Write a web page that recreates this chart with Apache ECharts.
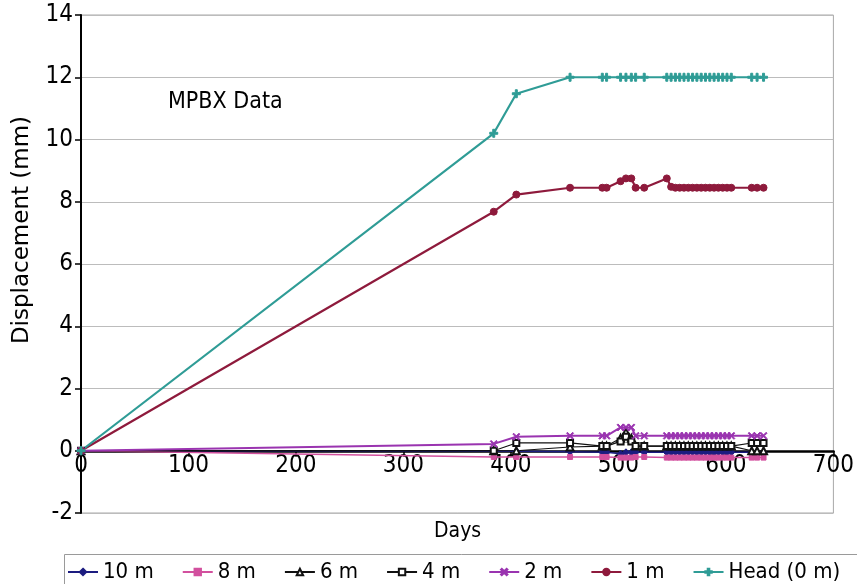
<!DOCTYPE html>
<html>
<head>
<meta charset="utf-8">
<script src="https://cdn.jsdelivr.net/npm/echarts@6/dist/echarts.min.js"></script>
<style>
  html, body { margin: 0; padding: 0; background: #fff; }
  #chart { width: 857px; height: 584px; }
</style>
</head>
<body>
<div id="chart"></div>
<script>
// Survey days at which the extensometer was read
const days = [0, 384, 405, 455, 485, 489, 502, 507, 512, 516, 524,
  545, 549, 553, 557, 561, 565, 569, 573, 577, 581, 585, 589, 593, 597, 601, 605,
  624, 629, 635];

// Displacement (mm) of each anchor depth
const head0m = [0, 10.2, 11.47, 12, 12, 12, 12, 12, 12, 12, 12,
  12, 12, 12, 12, 12, 12, 12, 12, 12, 12, 12, 12, 12, 12, 12, 12,
  12, 12, 12];
const anchor1m = [0, 7.68, 8.23, 8.45, 8.45, 8.45, 8.66, 8.75, 8.75, 8.45, 8.45,
  8.75, 8.48, 8.45, 8.45, 8.45, 8.45, 8.45, 8.45, 8.45, 8.45, 8.45, 8.45, 8.45, 8.45, 8.45, 8.45,
  8.45, 8.45, 8.45];
const anchor2m = [0, 0.22, 0.45, 0.48, 0.48, 0.48, 0.75, 0.75, 0.75, 0.48, 0.48,
  0.48, 0.48, 0.48, 0.48, 0.48, 0.48, 0.48, 0.48, 0.48, 0.48, 0.48, 0.48, 0.48, 0.48, 0.48, 0.48,
  0.48, 0.48, 0.48];
const anchor4m = [0, 0, 0.25, 0.25, 0.15, 0.15, 0.3, 0.45, 0.3, 0.15, 0.15,
  0.15, 0.15, 0.15, 0.15, 0.15, 0.15, 0.15, 0.15, 0.15, 0.15, 0.15, 0.15, 0.15, 0.15, 0.15, 0.15,
  0.25, 0.25, 0.25];
const anchor6m = [0, 0, 0, 0.12, 0.15, 0.15, 0.4, 0.6, 0.4, 0.15, 0.15,
  0.15, 0.15, 0.15, 0.15, 0.15, 0.15, 0.15, 0.15, 0.15, 0.15, 0.15, 0.15, 0.15, 0.15, 0.15, 0.15,
  0, 0, 0];
const anchor8m = [0, -0.2, -0.2, -0.2, -0.2, -0.2, -0.22, -0.22, -0.22, -0.2, -0.2,
  -0.22, -0.22, -0.22, -0.22, -0.22, -0.22, -0.22, -0.22, -0.22, -0.22, -0.22, -0.22, -0.22, -0.22, -0.22, -0.22,
  -0.22, -0.22, -0.22];
const anchor10m = [0, -0.02, -0.02, -0.03, -0.05, -0.05, -0.1, -0.05, -0.05, -0.05, -0.05,
  -0.05, -0.05, -0.05, -0.05, -0.05, -0.05, -0.05, -0.05, -0.05, -0.05, -0.05, -0.05, -0.05, -0.05, -0.05, -0.05,
  -0.05, -0.05, -0.05];

const seriesNames = ['10 m', '8 m', '6 m', '4 m', '2 m', '1 m', 'Head (0 m)'];
const xTicks = { min: 0, max: 700, step: 100 };
const yTicks = { min: -2, max: 14, step: 2 };
const titleText = 'MPBX Data';

const FONT = "'DejaVu Sans Condensed', 'Liberation Sans Narrow', 'DejaVu Sans', sans-serif";

const PLUS = 'path://M3,0h2v3h3v2h-3v3h-2v-3h-3v-2h3z';
const STAR = 'path://M0,1L1,0L4,3L7,0L8,1L5,4L8,7L7,8L4,5L1,8L0,7L3,4Z';

// plot box in pixels
const GRID = { left: 81, right: 22, top: 15, bottom: 71 };
const plotH = 584 - GRID.top - GRID.bottom;
// lift the day axis from the bottom edge up to the zero line
const zeroLift = plotH * (0 - yTicks.min) / (yTicks.max - yTicks.min);

function pairs(vals) {
  return days.map((d, i) => [d, vals[i]]);
}

function line(name, vals, color, symbol, size, width) {
  return {
    name: name,
    type: 'line',
    data: pairs(vals),
    symbol: symbol,
    symbolSize: size,
    showAllSymbol: true,
    animation: false,
    lineStyle: { color: color, width: width },
    itemStyle: { color: color, borderColor: color, borderWidth: 1 }
  };
}

const chart = echarts.init(document.getElementById('chart'), null, { renderer: 'canvas' });

chart.setOption({
  backgroundColor: '#ffffff',
  animation: false,
  textStyle: { fontFamily: FONT, color: '#000' },
  grid: {
    left: GRID.left, right: GRID.right, top: GRID.top, bottom: GRID.bottom,
    show: true, borderColor: '#a8a8a8', borderWidth: 1
  },
  title: {
    text: titleText,
    left: 163, top: 86,
    textStyle: { fontFamily: FONT, fontSize: 23, fontWeight: 'normal', color: '#000' }
  },
  legend: {
    data: seriesNames,
    left: 62, top: 556,
    itemWidth: 30, itemHeight: 8, itemGap: 28,
    textStyle: { fontFamily: FONT, fontSize: 22, color: '#000' }
  },
  graphic: [
    {
      type: 'rect', left: 62, top: 552, silent: true,
      shape: { width: 800, height: 40 },
      style: { fill: 'none', stroke: '#9a9a9a', lineWidth: 1 }
    },
    {
      type: 'text', left: 434, top: 521, silent: true,
      style: { text: 'Days', font: "21px " + FONT, fill: '#000' }
    },
    {
      type: 'text', silent: true,
      x: 22, y: 230, rotation: Math.PI / 2,
      style: {
        text: 'Displacement (mm)', font: "23px 'DejaVu Sans', sans-serif",
        fill: '#000', align: 'center', verticalAlign: 'middle'
      }
    }
  ],
  xAxis: {
    type: 'value',
    min: xTicks.min, max: xTicks.max, interval: xTicks.step,
    position: 'bottom',
    offset: -zeroLift,
    axisLine: { show: true, onZero: false, lineStyle: { color: '#000', width: 2.5 } },
    axisTick: { show: true, length: 6, lineStyle: { color: '#000', width: 1.5 } },
    axisLabel: { fontFamily: FONT, fontSize: 24, color: '#000', margin: 3, showMinLabel: true, showMaxLabel: true },
    splitLine: { show: false }
  },
  yAxis: {
    type: 'value',
    min: yTicks.min, max: yTicks.max, interval: yTicks.step,
    axisLine: { show: true, onZero: false, lineStyle: { color: '#000', width: 2 } },
    axisTick: { show: true, length: 6, lineStyle: { color: '#000', width: 1.5 } },
    axisLabel: { fontFamily: FONT, fontSize: 24, color: '#000', margin: 8 },
    splitLine: { show: true, lineStyle: { color: '#bcbcbc', width: 1.2 } }
  },
  series: [
    line('10 m', anchor10m, '#1c1c80', 'diamond', 7, 1.5),
    line('8 m', anchor8m, '#d2509e', 'rect', 5, 1.5),
    line('6 m', anchor6m, '#111111', 'emptyTriangle', 7, 1.2),
    line('4 m', anchor4m, '#111111', 'emptyRect', 6, 1.2),
    line('2 m', anchor2m, '#9a34b0', STAR, 7, 2),
    line('1 m', anchor1m, '#8e1a3c', 'circle', 7, 2.2),
    line('Head (0 m)', head0m, '#2f9c96', PLUS, 8, 2.2)
  ]
});
</script>
</body>
</html>
